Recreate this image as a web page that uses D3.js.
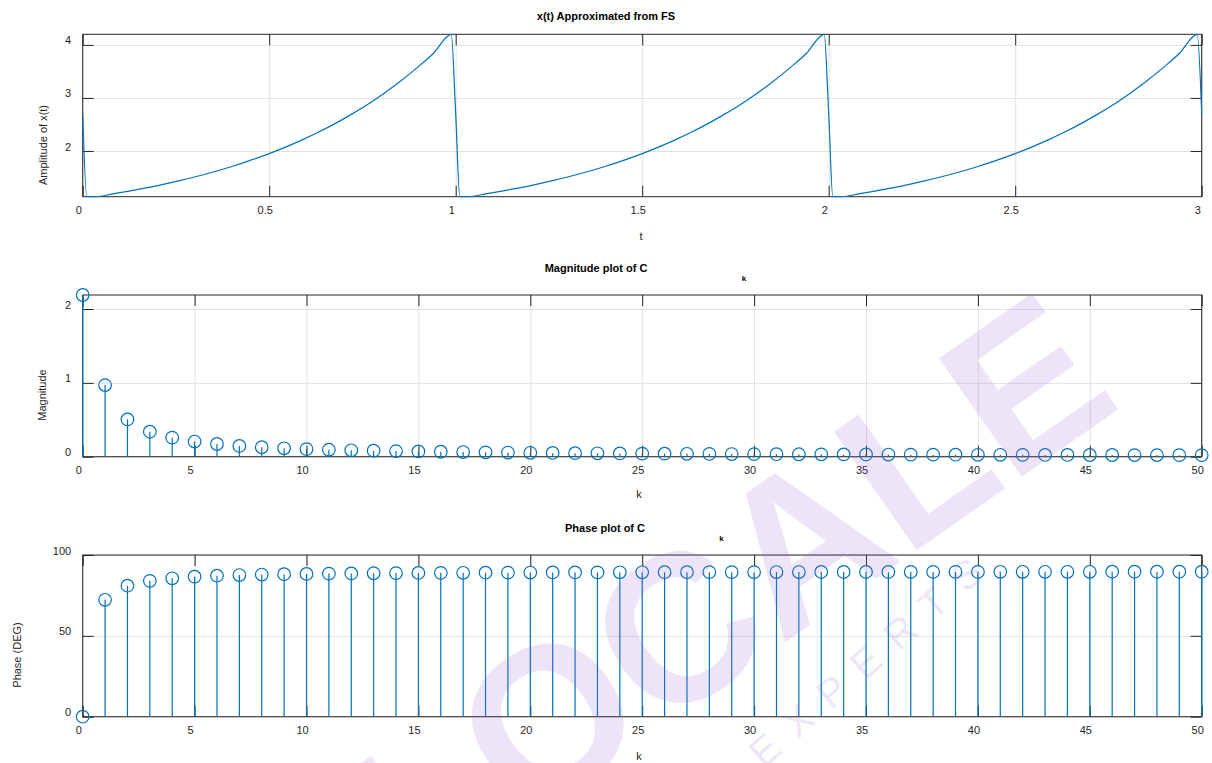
<!DOCTYPE html>
<html>
<head>
<meta charset="utf-8">
<script src="https://cdn.jsdelivr.net/npm/d3@7"></script>
<style>
  body { margin: 0; background: #fff; }
  svg { display: block; font-family: "Liberation Sans", Arial, Helvetica, sans-serif; }
  .grid line { stroke: #e2e2e2; stroke-width: 1; }
  .grid path, .ticks path, .labels path { display: none; }
  .ticks line { stroke: #262626; stroke-width: 1; }
  .labels text { fill: #262626; font-size: 11px; }
</style>
</head>
<body>
<svg id="chart" width="1212" height="763"></svg>
<script>
// x(t) approximated from the Fourier series
const tVals = [
  0, 0.011, 0.035, 0.08, 0.12, 0.17, 0.21, 0.26, 0.30, 0.35, 0.40, 0.44, 0.50, 0.55, 0.59, 0.63, 0.68, 0.72, 0.77, 0.81, 0.85, 0.90, 0.94, 0.988,
  1, 1.011, 1.035, 1.08, 1.12, 1.17, 1.21, 1.26, 1.30, 1.35, 1.40, 1.44, 1.50, 1.55, 1.59, 1.63, 1.68, 1.72, 1.77, 1.81, 1.85, 1.90, 1.94, 1.988,
  2, 2.011, 2.035, 2.08, 2.12, 2.17, 2.21, 2.26, 2.30, 2.35, 2.40, 2.44, 2.50, 2.55, 2.59, 2.63, 2.68, 2.72, 2.77, 2.81, 2.85, 2.90, 2.94, 2.988,
  3
];
const xVals = [
  2.70, 1.14, 1.14, 1.190, 1.238, 1.304, 1.361, 1.440, 1.509, 1.603, 1.708, 1.799, 1.950, 2.091, 2.214, 2.347, 2.530, 2.690, 2.906, 3.100, 3.307, 3.590, 3.838, 4.20,
  2.70, 1.14, 1.14, 1.190, 1.238, 1.304, 1.361, 1.440, 1.509, 1.603, 1.708, 1.799, 1.950, 2.091, 2.214, 2.347, 2.530, 2.690, 2.906, 3.100, 3.307, 3.590, 3.838, 4.20,
  2.70, 1.14, 1.14, 1.190, 1.238, 1.304, 1.361, 1.440, 1.509, 1.603, 1.708, 1.799, 1.950, 2.091, 2.214, 2.347, 2.530, 2.690, 2.906, 3.100, 3.307, 3.590, 3.838, 4.20,
  2.70
];

// harmonic index k
const kVals = [
  0, 1, 2, 3, 4, 5, 6, 7, 8, 9, 10, 11, 12, 13, 14, 15, 16, 17, 18, 19, 20, 21, 22, 23, 24, 25,
  26, 27, 28, 29, 30, 31, 32, 33, 34, 35, 36, 37, 38, 39, 40, 41, 42, 43, 44, 45, 46, 47, 48, 49, 50
];
const magVals = [
  2.19, 0.97, 0.505, 0.338, 0.258, 0.205, 0.172, 0.146, 0.128, 0.114, 0.103, 0.094, 0.087, 0.081, 0.076, 0.071,
  0.067, 0.063, 0.059, 0.056, 0.053, 0.051, 0.048, 0.046, 0.044, 0.042, 0.041, 0.039, 0.038, 0.036, 0.035,
  0.034, 0.033, 0.032, 0.031, 0.030, 0.029, 0.028, 0.028, 0.027, 0.026, 0.026, 0.025, 0.024, 0.024, 0.023,
  0.023, 0.022, 0.022, 0.021, 0.021
];
const phaseVals = [
  0, 72.3, 81.0, 84.0, 85.6, 86.6, 87.2, 87.6, 87.9, 88.1, 88.3, 88.5, 88.6, 88.7, 88.8, 88.9,
  88.95, 89.0, 89.05, 89.1, 89.15, 89.2, 89.2, 89.25, 89.3, 89.3, 89.35, 89.35, 89.4, 89.4, 89.4,
  89.45, 89.45, 89.5, 89.5, 89.5, 89.5, 89.55, 89.55, 89.55, 89.55, 89.6, 89.6, 89.6, 89.6, 89.6,
  89.65, 89.65, 89.65, 89.65, 89.65
];

// tick labels
const tTicks = [0, 0.5, 1, 1.5, 2, 2.5, 3];
const ampTicks = [2, 3, 4];
const kTicks = [0, 5, 10, 15, 20, 25, 30, 35, 40, 45, 50];
const magTicks = [0, 1, 2];
const phaseTicks = [0, 50, 100];

const svg = d3.select('#chart');
const left = 82.7, right = 1201.7;
const blue = '#0072BD';
const tickLen = 11;

function panel(cfg) {
  const g = svg.append('g');
  const x = d3.scaleLinear().domain(cfg.xDom).range([left, right]);
  const y = d3.scaleLinear().domain(cfg.yDom).range([cfg.bottom, cfg.top]);
  const h = cfg.bottom - cfg.top;

  // grid
  g.append('g').attr('class', 'grid')
    .attr('transform', 'translate(0,' + cfg.bottom + ')')
    .call(d3.axisBottom(x).tickValues(cfg.xTicks).tickSize(-h).tickFormat(''));
  g.append('g').attr('class', 'grid')
    .attr('transform', 'translate(' + left + ',0)')
    .call(d3.axisLeft(y).tickValues(cfg.yTicks).tickSize(-(right - left)).tickFormat(''));

  // box
  g.append('rect')
    .attr('x', left).attr('y', cfg.top)
    .attr('width', right - left).attr('height', h)
    .attr('fill', 'none').attr('stroke', '#262626').attr('stroke-width', 1);

  // inward ticks on all four sides
  g.append('g').attr('class', 'ticks').attr('transform', 'translate(0,' + cfg.bottom + ')')
    .call(d3.axisBottom(x).tickValues(cfg.xTicks).tickSize(-tickLen).tickFormat(''));
  g.append('g').attr('class', 'ticks').attr('transform', 'translate(0,' + cfg.top + ')')
    .call(d3.axisTop(x).tickValues(cfg.xTicks).tickSize(-tickLen).tickFormat(''));
  g.append('g').attr('class', 'ticks').attr('transform', 'translate(' + left + ',0)')
    .call(d3.axisLeft(y).tickValues(cfg.yTicks).tickSize(-tickLen).tickFormat(''));
  g.append('g').attr('class', 'ticks').attr('transform', 'translate(' + right + ',0)')
    .call(d3.axisRight(y).tickValues(cfg.yTicks).tickSize(-tickLen).tickFormat(''));

  // tick labels
  const xl = g.append('g').attr('class', 'labels').attr('transform', 'translate(0,' + cfg.bottom + ')')
    .call(d3.axisBottom(x).tickValues(cfg.xTicks).tickSize(0).tickPadding(9.5).tickFormat(d3.format('')));
  xl.selectAll('line').remove();
  xl.selectAll('text').attr('dx', -4.5);
  const yl = g.append('g').attr('class', 'labels').attr('transform', 'translate(' + left + ',0)')
    .call(d3.axisLeft(y).tickValues(cfg.yTicks).tickSize(0).tickPadding(11.5).tickFormat(d3.format('')));
  yl.selectAll('line').remove();
  yl.selectAll('text').attr('transform', 'translate(0,-4.5)');

  // axis labels
  g.append('text')
    .attr('x', cfg.xLabelPos[0]).attr('y', cfg.xLabelPos[1])
    .attr('text-anchor', 'middle').attr('font-size', 11).attr('fill', '#262626')
    .text(cfg.xLabel);
  g.append('text')
    .attr('transform', 'translate(' + cfg.yLabelPos[0] + ',' + cfg.yLabelPos[1] + ') rotate(-90)')
    .attr('text-anchor', 'middle').attr('dy', '0.35em').attr('font-size', 11).attr('fill', '#262626')
    .text(cfg.yLabel);

  // title (subscript k sits off to the side, as in the original export)
  g.append('text')
    .attr('x', cfg.titlePos[0]).attr('y', cfg.titlePos[1])
    .attr('text-anchor', 'middle').attr('font-size', 11).attr('font-weight', 'bold').attr('fill', '#000')
    .text(cfg.title);
  if (cfg.subPos) {
    g.append('text')
      .attr('x', cfg.subPos[0]).attr('y', cfg.subPos[1])
      .attr('text-anchor', 'middle').attr('font-size', 8).attr('font-weight', 'bold').attr('fill', '#000')
      .text('k');
  }
  return { g, x, y };
}

// ---- x(t) ----
const p1 = panel({
  xDom: [0, 3], yDom: [1.138, 4.2], top: 34.3, bottom: 196.7,
  xTicks: tTicks, yTicks: ampTicks,
  xLabel: 't', xLabelPos: [641, 240],
  yLabel: 'Amplitude of x(t)', yLabelPos: [43, 145],
  title: 'x(t) Approximated from FS', titlePos: [606, 20]
});
svg.append('clipPath').attr('id', 'clip1').append('rect')
  .attr('x', left).attr('y', 34.3 - 1).attr('width', right - left + 1).attr('height', 196.7 - 34.3 + 2);
const line = d3.line()
  .x(i => p1.x(tVals[i]))
  .y(i => p1.y(xVals[i]))
  .curve(d3.curveMonotoneX);
p1.g.append('path')
  .datum(d3.range(tVals.length))
  .attr('clip-path', 'url(#clip1)')
  .attr('fill', 'none').attr('stroke', blue).attr('stroke-width', 1.2)
  .attr('d', line);

// ---- stem plots ----
function stems(p, vals) {
  p.g.selectAll(null)
    .data(kVals).enter().append('line')
    .attr('x1', k => p.x(k)).attr('x2', k => p.x(k))
    .attr('y1', p.y(0)).attr('y2', (k, i) => p.y(vals[i]))
    .attr('stroke', blue).attr('stroke-width', 1.2);
  p.g.selectAll(null)
    .data(kVals).enter().append('circle')
    .attr('cx', k => p.x(k)).attr('cy', (k, i) => p.y(vals[i]))
    .attr('r', 6.3)
    .attr('fill', 'none').attr('stroke', blue).attr('stroke-width', 1.2);
}

const p2 = panel({
  xDom: [0, 50], yDom: [0, 2.19], top: 295, bottom: 456.7,
  xTicks: kTicks, yTicks: magTicks,
  xLabel: 'k', xLabelPos: [639, 498],
  yLabel: 'Magnitude', yLabelPos: [42, 395],
  title: 'Magnitude plot of C', titlePos: [596, 272.3], subPos: [744, 280.5]
});
stems(p2, magVals);

const p3 = panel({
  xDom: [0, 50], yDom: [0, 100], top: 555, bottom: 716.7,
  xTicks: kTicks, yTicks: phaseTicks,
  xLabel: 'k', xLabelPos: [639, 760],
  yLabel: 'Phase (DEG)', yLabelPos: [17, 655],
  title: 'Phase plot of C', titlePos: [605, 532.3], subPos: [721.5, 540.5]
});
stems(p3, phaseVals);

// faint watermark laid over the figure
const wm = svg.append('g').attr('pointer-events', 'none').attr('fill', 'rgb(150,100,210)').attr('fill-opacity', 0.17);
wm.append('text')
  .attr('transform', 'translate(728,590) rotate(-35)')
  .attr('text-anchor', 'middle').attr('dy', '0.36em')
  .attr('font-size', 210).attr('font-weight', 'bold')
  .text('LOCALE');
wm.append('text')
  .attr('transform', 'translate(872,656) rotate(-41)')
  .attr('text-anchor', 'middle').attr('dy', '0.36em')
  .attr('font-size', 40).attr('letter-spacing', 18)
  .text('EXPERTS');
</script>
</body>
</html>
